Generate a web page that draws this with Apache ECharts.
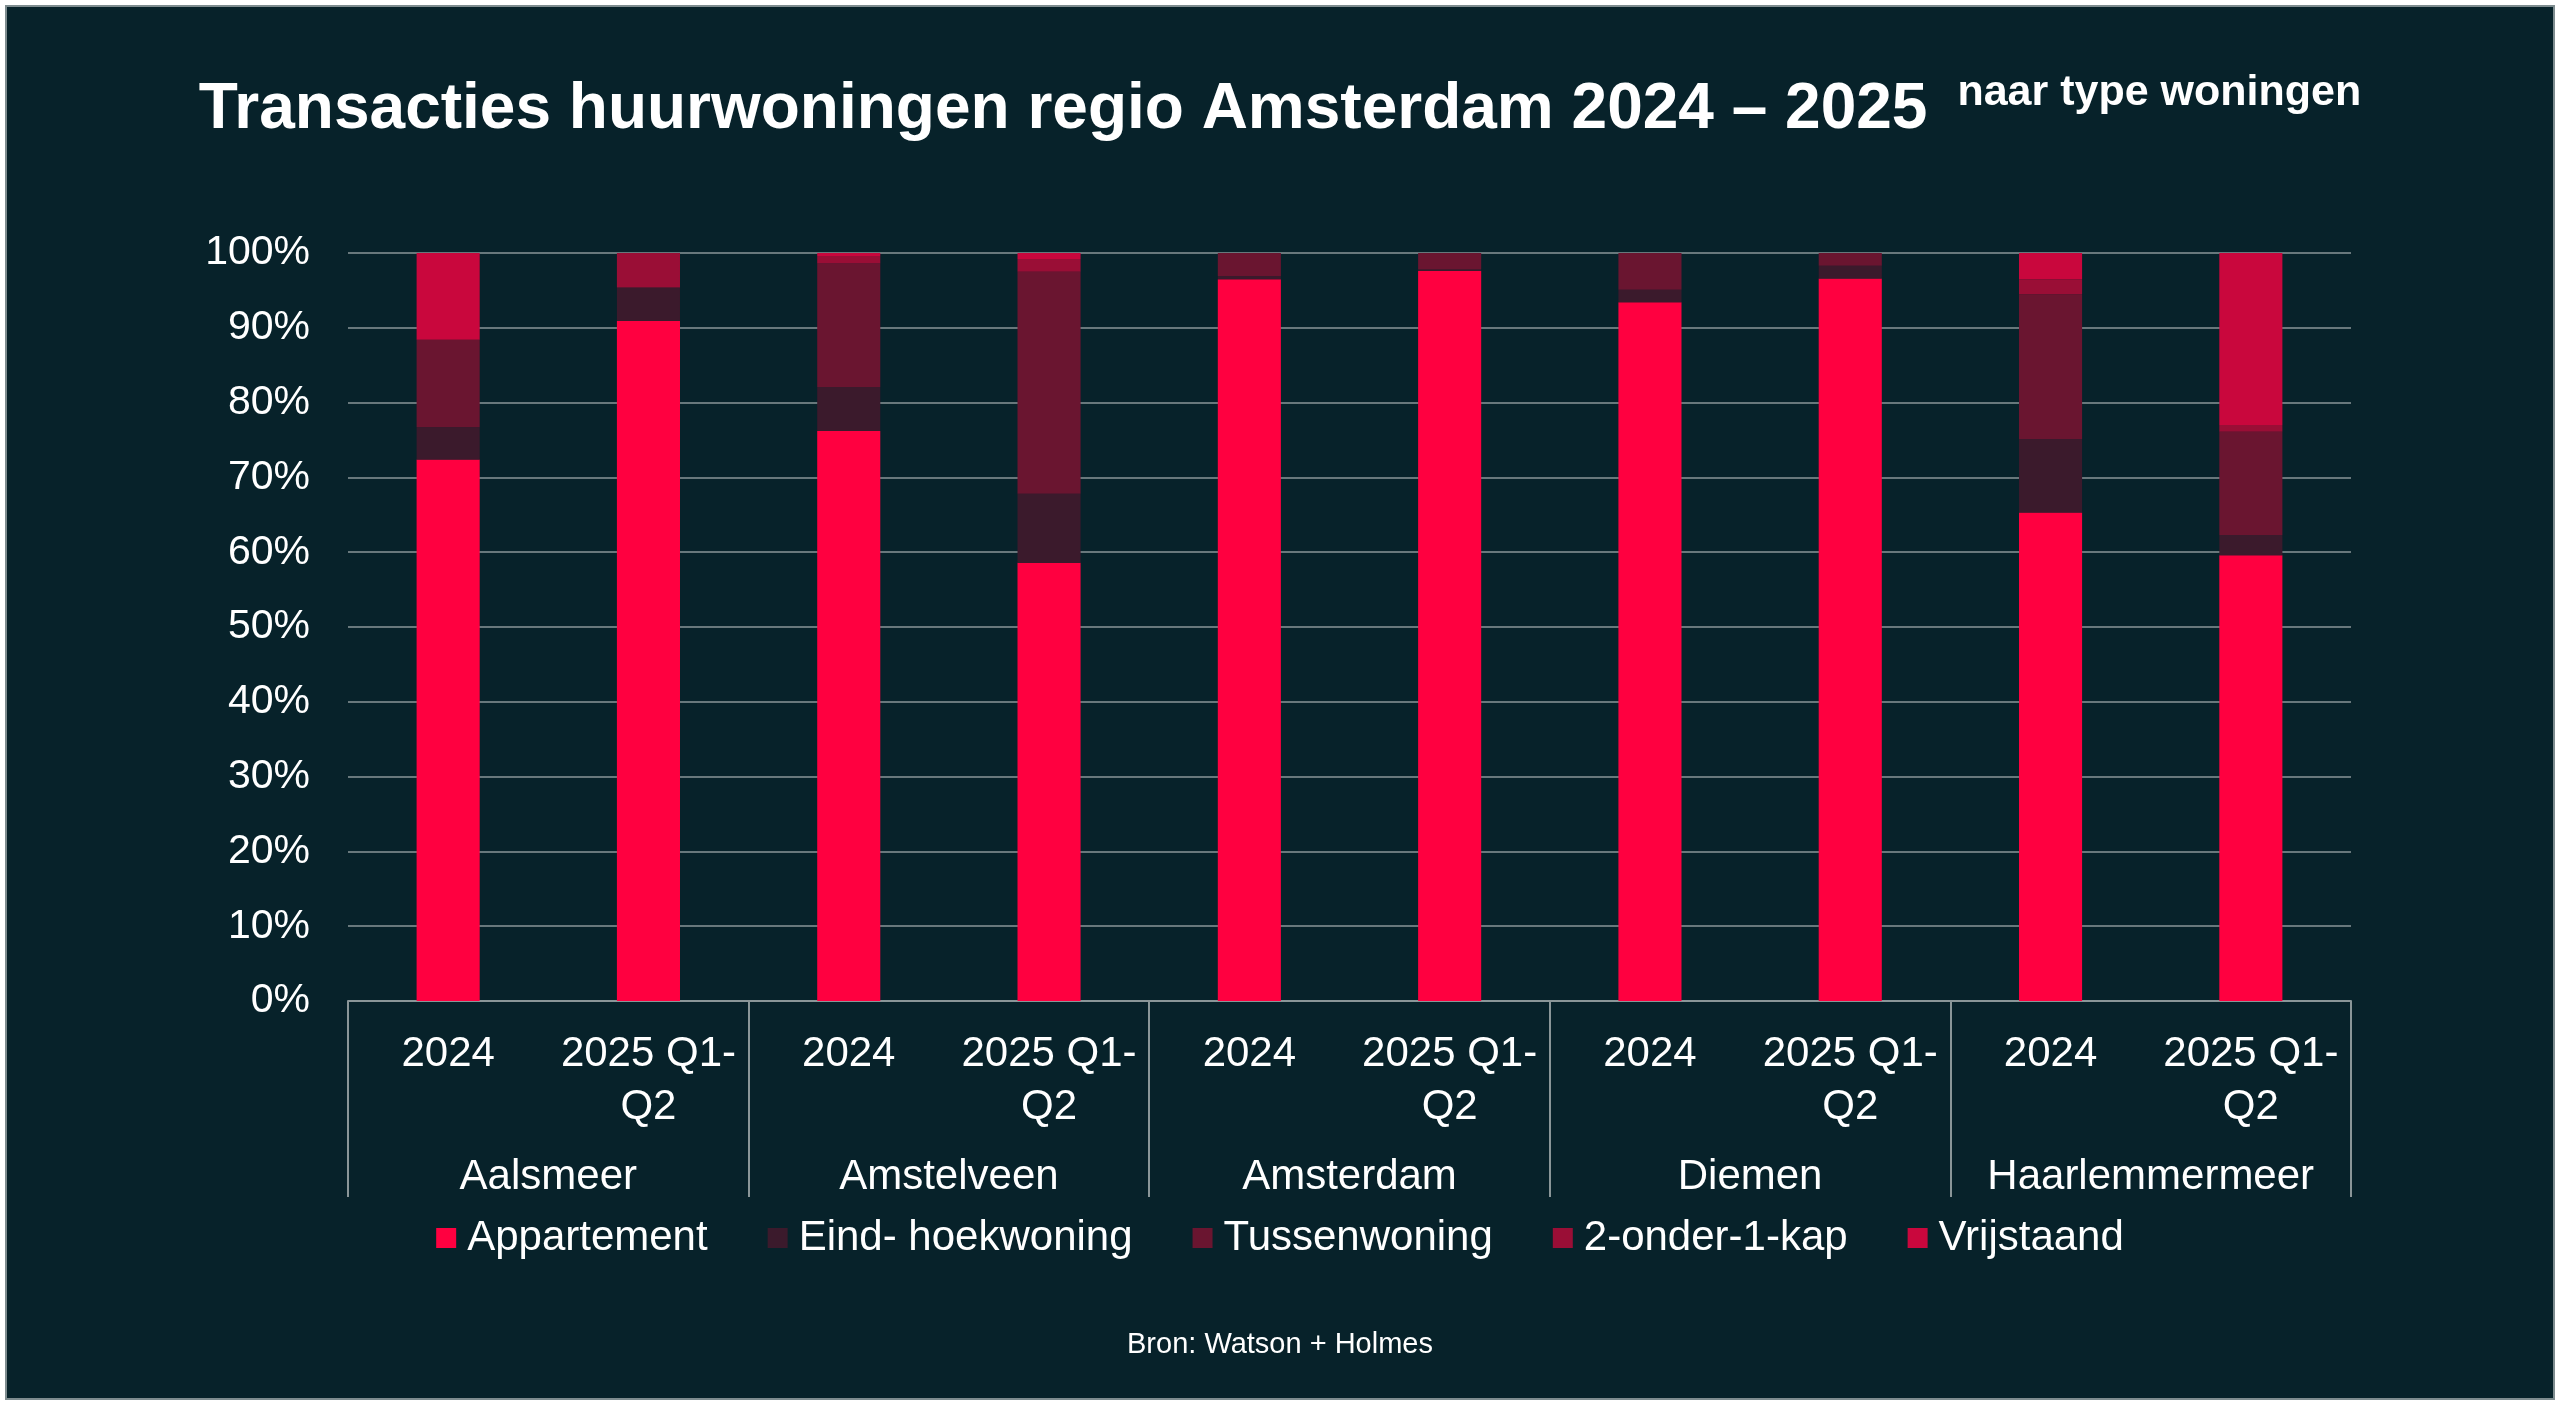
<!DOCTYPE html>
<html>
<head>
<meta charset="utf-8">
<script src="https://cdn.jsdelivr.net/npm/echarts@6/dist/echarts.min.js"></script>
<style>
html,body{margin:0;padding:0;background:#ffffff;}
#c{width:2560px;height:1405px;}
</style>
</head>
<body>
<div id="c"></div>
<script>
// ---- data ----
const periodLabels = ['2024', '2025 Q1-\nQ2', '2024', '2025 Q1-\nQ2', '2024', '2025 Q1-\nQ2', '2024', '2025 Q1-\nQ2', '2024', '2025 Q1-\nQ2'];
const municipalities = ['Aalsmeer', 'Amstelveen', 'Amsterdam', 'Diemen', 'Haarlemmermeer'];
const seriesNames = ['Appartement', 'Eind- hoekwoning', 'Tussenwoning', '2-onder-1-kap', 'Vrijstaand'];
const appartement = [72.4, 90.9, 76.2, 58.6, 96.5, 97.6, 93.4, 96.6, 65.3, 59.6];
const eindHoek    = [4.3, 4.5, 5.9, 9.2, 0.4, 0.2, 1.7, 1.7, 9.8, 2.7];
const tussen      = [11.7, 0, 16.5, 29.7, 3.1, 2.2, 4.9, 1.7, 19.4, 13.8];
const tweeOnder   = [0, 4.6, 1.0, 1.7, 0, 0, 0, 0, 2.0, 0.9];
const vrijstaand  = [11.6, 0, 0.4, 0.8, 0, 0, 0, 0, 3.5, 23.0];
const yTicks = [0, 10, 20, 30, 40, 50, 60, 70, 80, 90, 100];

// ---- style ----
const colors = ['#FF0040', '#3B1A2C', '#6A1530', '#9A0E36', '#C9073D'];
const FONT = '"Liberation Sans", Arial, sans-serif';
const GRIDC = '#8A9698';
const BG = '#07222A';

const chart = echarts.init(document.getElementById('c'), null, {renderer: 'canvas'});
const values = [appartement, eindHoek, tussen, tweeOnder, vrijstaand];

chart.setOption({
  backgroundColor: '#ffffff',
  animation: false,
  textStyle: {fontFamily: FONT},
  title: {
    left: 'center',
    top: 67,
    text: '{a|Transacties huurwoningen regio Amsterdam 2024 – 2025}{b|naar type woningen}',
    textStyle: {
      rich: {
        a: {fontFamily: FONT, fontWeight: 'bold', fontSize: 64, color: '#ffffff', lineHeight: 76},
        b: {fontFamily: FONT, fontWeight: 'bold', fontSize: 43, color: '#ffffff', lineHeight: 62, verticalAlign: 'top', padding: [0, 0, 0, 30]}
      }
    }
  },
  legend: {
    top: 1212,
    left: 'center',
    icon: 'rect',
    itemWidth: 20,
    itemHeight: 20,
    itemGap: 60,
    textStyle: {color: '#ffffff', fontSize: 42, fontFamily: FONT, padding: [0, 0, 0, 6]},
    data: seriesNames
  },
  grid: {left: 348, right: 209, top: 253, bottom: 404, containLabel: false},
  xAxis: [
    {
      type: 'category',
      data: periodLabels,
      position: 'bottom',
      axisLine: {show: true, lineStyle: {color: GRIDC, width: 2}},
      axisTick: {show: false},
      axisLabel: {color: '#ffffff', fontSize: 42, fontFamily: FONT, lineHeight: 53, margin: 27, interval: 0}
    },
    {
      type: 'category',
      data: municipalities,
      position: 'bottom',
      axisLine: {show: false},
      axisTick: {show: true, length: 196, lineStyle: {color: GRIDC, width: 2}},
      axisLabel: {color: '#ffffff', fontSize: 42, fontFamily: FONT, lineHeight: 53, margin: 150, interval: 0}
    }
  ],
  yAxis: {
    type: 'value',
    min: yTicks[0],
    max: yTicks[yTicks.length - 1],
    interval: 10,
    axisLine: {show: false},
    axisTick: {show: false},
    splitLine: {lineStyle: {color: GRIDC, width: 1.5}},
    axisLabel: {color: '#ffffff', fontSize: 41, fontFamily: FONT, margin: 38, formatter: '{value}%'}
  },
  series: seriesNames.map((n, i) => ({
    name: n,
    type: 'bar',
    stack: 'total',
    xAxisIndex: 0,
    barWidth: '31.5%',
    itemStyle: {color: colors[i]},
    data: values[i]
  })),
  graphic: [
    {
      type: 'rect',
      z: -100,
      silent: true,
      shape: {x: 6, y: 6, width: 2548, height: 1393},
      style: {fill: BG, stroke: '#7E8C8F', lineWidth: 2}
    },
    {
      type: 'text',
      left: 'center',
      top: 1330,
      style: {text: 'Bron: Watson + Holmes', fill: '#ffffff', font: '29px ' + FONT}
    }
  ]
});
</script>
</body>
</html>
